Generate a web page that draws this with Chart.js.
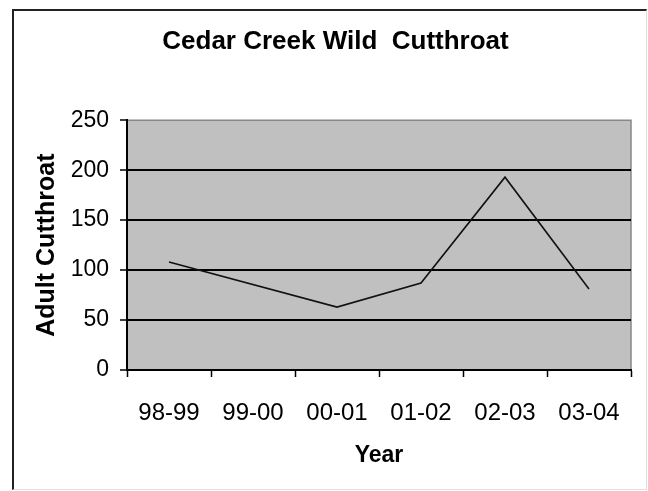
<!DOCTYPE html>
<html>
<head>
<meta charset="utf-8">
<script src="https://cdn.jsdelivr.net/npm/chart.js@4/dist/chart.umd.min.js"></script>
<style>
  body { margin: 0; background: #fff; }
  #frame {
    position: absolute; left: 12px; top: 9px; width: 632px; height: 478px;
    border-top: 2px solid #222; border-left: 2px solid #222;
    border-right: 1px solid #ddd; border-bottom: 1px solid #e2e2e2;
  }
  #wrap { position: absolute; left: 0; top: 0; width: 648px; height: 491px; }
</style>
</head>
<body>
<div id="frame"></div>
<div id="wrap"><canvas id="fishChart" width="648" height="491"></canvas></div>
<script>
// chart data
const YEARS = ['98-99', '99-00', '00-01', '01-02', '02-03', '03-04'];
const ADULT_CUTTHROAT = [108, null, 63, 87, 193, 81]; // 99-00 has no value, line spans over it
const Y_TICKS = [0, 50, 100, 150, 200, 250];

const FONT = 'Liberation Sans, Arial, sans-serif';

// grey plot area, with a thin grey border on top and right
const plotBackground = {
    id: 'plotBackground',
    beforeDraw(chart) {
        const { ctx, chartArea: a } = chart;
        ctx.save();
        ctx.fillStyle = '#c0c0c0';
        ctx.fillRect(a.left, a.top, a.right - a.left, a.bottom - a.top);
        ctx.strokeStyle = '#888';
        ctx.lineWidth = 1.5;
        ctx.beginPath();
        ctx.moveTo(a.left, a.top);
        ctx.lineTo(a.right, a.top);
        ctx.lineTo(a.right, a.bottom);
        ctx.stroke();
        ctx.restore();
    }
};

const ctx = document.getElementById('fishChart').getContext('2d');
const chart = new Chart(ctx, {
    type: 'line',
    data: {
        labels: YEARS,
        datasets: [{
            label: 'Adult Cutthroat',
            data: ADULT_CUTTHROAT,
            borderColor: '#111',
            borderWidth: 1.6,
            pointRadius: 0,
            spanGaps: true,
            tension: 0
        }]
    },
    options: {
        responsive: false,
        animation: false,
        layout: { padding: { left: 40, right: 17, top: 0, bottom: 0 } },
        plugins: {
            legend: { display: false },
            tooltip: { enabled: false },
            title: {
                display: true,
                text: 'Cedar Creek Wild  Cutthroat',
                color: '#000',
                font: { family: FONT, size: 26, weight: 'bold' },
                padding: { top: 26, bottom: 63 }
            }
        },
        scales: {
            x: {
                offset: true,
                grid: { offset: true, drawOnChartArea: false, tickLength: 7, tickColor: '#000', tickWidth: 1.5 },
                border: { color: '#000', width: 2 },
                ticks: { color: '#000', padding: 22, font: { family: FONT, size: 24 } },
                title: {
                    display: true, text: 'Year', color: '#000',
                    font: { family: FONT, size: 23, weight: 'bold' },
                    padding: { top: 0, bottom: 22 }
                },
                afterFit: (scale) => { scale.height = 121; }
            },
            y: {
                min: Y_TICKS[0],
                max: Y_TICKS[Y_TICKS.length - 1],
                afterBuildTicks: (scale) => { scale.ticks = Y_TICKS.map(v => ({ value: v })); },
                grid: {
                    color: (c) => (c.tick && c.tick.value > 0 && c.tick.value < 250) ? '#000' : 'rgba(0,0,0,0)',
                    lineWidth: 2,
                    tickLength: 7,
                    tickColor: '#000',
                    tickWidth: 1.5
                },
                border: { color: '#000', width: 2 },
                ticks: { color: '#000', padding: 11, font: { family: FONT, size: 23 } },
                title: {
                    display: true, text: 'Adult Cutthroat', color: '#000',
                    font: { family: FONT, size: 25, weight: 'bold' },
                    padding: { top: -8, bottom: 0 }
                },
                afterFit: (scale) => { scale.width = 87; }
            }
        }
    },
    plugins: [plotBackground]
});
</script>
</body>
</html>
